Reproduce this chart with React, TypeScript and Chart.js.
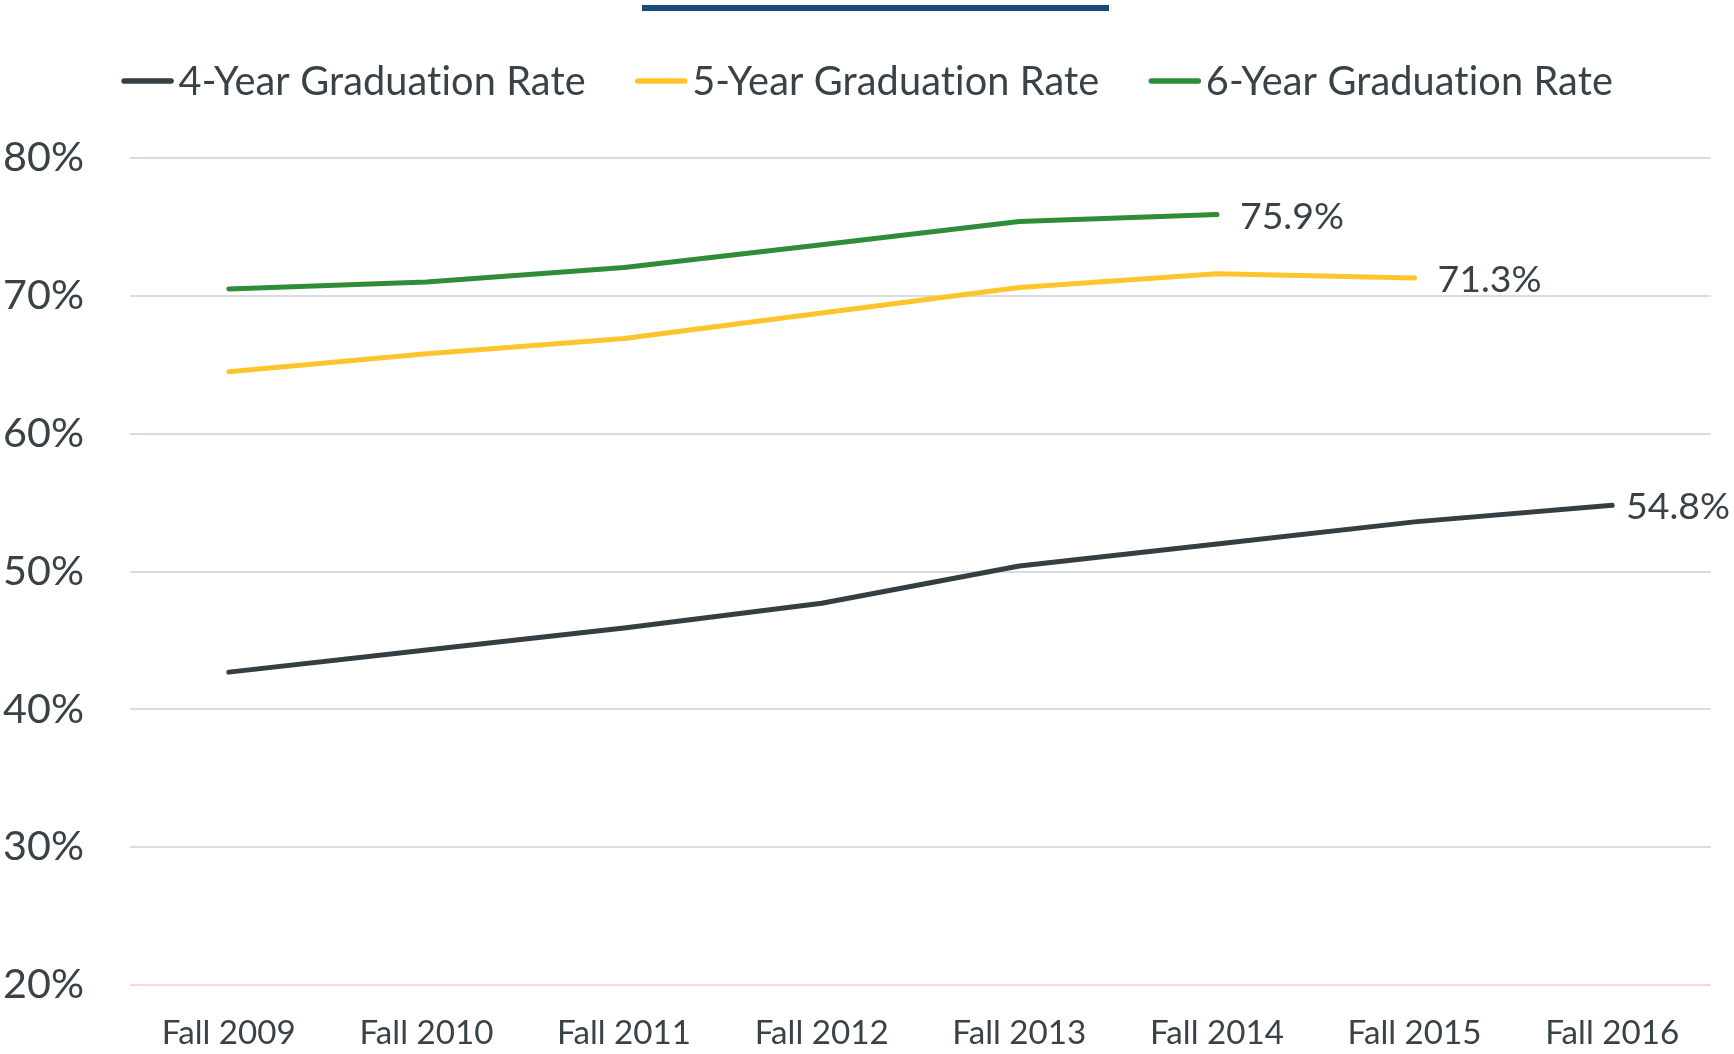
import React, { useEffect, useRef } from "react";
import { Chart, registerables } from "chart.js";

Chart.register(...registerables);

// ---------- data ----------
const categories = ["Fall 2009", "Fall 2010", "Fall 2011", "Fall 2012", "Fall 2013", "Fall 2014", "Fall 2015", "Fall 2016"];
const seriesNames = ["4-Year Graduation Rate", "5-Year Graduation Rate", "6-Year Graduation Rate"];
const fourYear = [42.7, 44.3, 45.9, 47.7, 50.4, 52.0, 53.6, 54.8];
const fiveYear = [64.5, 65.8, 66.9, 68.75, 70.6, 71.6, 71.3, null];
const sixYear = [70.5, 71.0, 72.05, 73.7, 75.4, 75.9, null, null];
const yTickValues = [20, 30, 40, 50, 60, 70, 80];

// ---------- styling ----------
const W = 1734;
const H = 1054;
const FONT = "Lato";
const TEXT = "#394246";
const COLORS = ["#343e43", "#fec42b", "#2f8c38"];
const GRID = "#d9dde1";
const GRID_BASE = "#f7d6dc";
const BAR = "#1a4a7a";

function fitSize(text: string, target: number, spacing = "0px"): number {
  const c = document.createElement("canvas").getContext("2d")! as any;
  c.font = `100px ${FONT}`;
  c.letterSpacing = spacing;
  return (100 * target) / c.measureText(text).width;
}

export default function App() {
  const ref = useRef<HTMLCanvasElement>(null);

  useEffect(() => {
    const yTickSize = fitSize("80%", 81);
    const xTickSize = fitSize("Fall 2009", 134);
    const legendSize = fitSize(seriesNames[0], 406, "0.1px");
    const labelSize = fitSize("75.9%", 104);

    const decorPlugin = {
      id: "decor",
      afterDraw(chart: any) {
        const ctx = chart.ctx as any;
        ctx.save();
        // top bar
        ctx.fillStyle = BAR;
        ctx.fillRect(642, 5, 467, 6);
        // legend
        ctx.font = `${legendSize}px ${FONT}`;
        ctx.letterSpacing = "0.1px";
        const lineLen = 53;
        const gapLT = 4.5;
        const gapItems = 49;
        const ds = chart.data.datasets;
        const widths = ds.map((d: any) => ctx.measureText(d.label).width);
        const total = widths.reduce((a: number, w: number) => a + lineLen + gapLT + w, 0) + gapItems * (ds.length - 1);
        let x = chart.width / 2 - total / 2;
        const y = 81;
        ds.forEach((d: any, i: number) => {
          ctx.strokeStyle = d.borderColor;
          ctx.lineWidth = 5.5;
          ctx.lineCap = "round";
          ctx.beginPath();
          ctx.moveTo(x + 3, y);
          ctx.lineTo(x + lineLen - 3, y);
          ctx.stroke();
          x += lineLen + gapLT;
          ctx.fillStyle = TEXT;
          ctx.textAlign = "left";
          ctx.textBaseline = "middle";
          ctx.fillText(d.label, x, y + 1);
          x += widths[i] + gapItems;
        });
        ctx.restore();
      },
      afterDatasetsDraw(chart: any) {
        const ctx = chart.ctx as CanvasRenderingContext2D;
        ctx.save();
        ctx.font = `${labelSize}px ${FONT}`;
        ctx.fillStyle = TEXT;
        ctx.textAlign = "left";
        ctx.textBaseline = "middle";
        chart.data.datasets.forEach((d: any, i: number) => {
          const meta = chart.getDatasetMeta(i);
          let last = -1;
          d.data.forEach((v: any, j: number) => {
            if (v !== null && v !== undefined) last = j;
          });
          if (last < 0) return;
          const pt = meta.data[last];
          const txt = `${Number(d.data[last]).toFixed(1)}%`;
          const tw = ctx.measureText(txt).width;
          const tx = Math.min(pt.x + 23, chart.width - 4 - tw);
          ctx.fillText(txt, tx, pt.y + 2);
        });
        ctx.restore();
      },
    };

    const mk = (label: string, data: (number | null)[], color: string) => ({
      label,
      data,
      borderColor: color,
      backgroundColor: color,
      borderWidth: 5,
      borderCapStyle: "round" as const,
      borderJoinStyle: "round" as const,
      pointRadius: 0,
      pointHoverRadius: 0,
      tension: 0,
      spanGaps: false,
      fill: false,
    });

    const chart = new Chart(ref.current!, {
      type: "line",
      data: {
        labels: categories,
        datasets: [
          mk(seriesNames[0], fourYear, COLORS[0]),
          mk(seriesNames[1], fiveYear, COLORS[1]),
          mk(seriesNames[2], sixYear, COLORS[2]),
        ],
      },
      options: {
        responsive: false,
        animation: false,
        devicePixelRatio: 1,
        layout: { padding: { left: 3, right: 23, top: 158, bottom: 0 } },
        plugins: {
          legend: { display: false },
          tooltip: { enabled: false },
          title: { display: false },
        },
        scales: {
          x: {
            type: "category",
            offset: true,
            grid: { display: false, drawTicks: false },
            border: { display: false },
            ticks: {
              color: TEXT,
              font: { family: FONT, size: xTickSize },
              padding: 28,
              maxRotation: 0,
              autoSkip: false,
            },
            afterFit: (scale: any) => {
              scale.height = H - 985;
            },
          },
          y: {
            min: 20,
            max: 80,
            afterBuildTicks: (scale: any) => {
              scale.ticks = yTickValues.map((v) => ({ value: v }));
            },
            grid: {
              color: (c: any) => (c.tick && c.tick.value === 20 ? GRID_BASE : GRID),
              lineWidth: 2,
              drawTicks: false,
            },
            border: { display: false },
            ticks: {
              color: TEXT,
              font: { family: FONT, size: yTickSize },
              crossAlign: "far",
              padding: 0,
              callback: (v: any) => `${v}%`,
            },
            afterFit: (scale: any) => {
              scale.width = 127;
            },
          },
        },
      },
      plugins: [decorPlugin],
    } as any);

    return () => chart.destroy();
  }, []);

  return (
    <div style={{ position: "fixed", left: 0, top: 0, width: W, height: H, background: "#ffffff" }}>
      <canvas ref={ref} width={W} height={H} style={{ display: "block" }} />
    </div>
  );
}
